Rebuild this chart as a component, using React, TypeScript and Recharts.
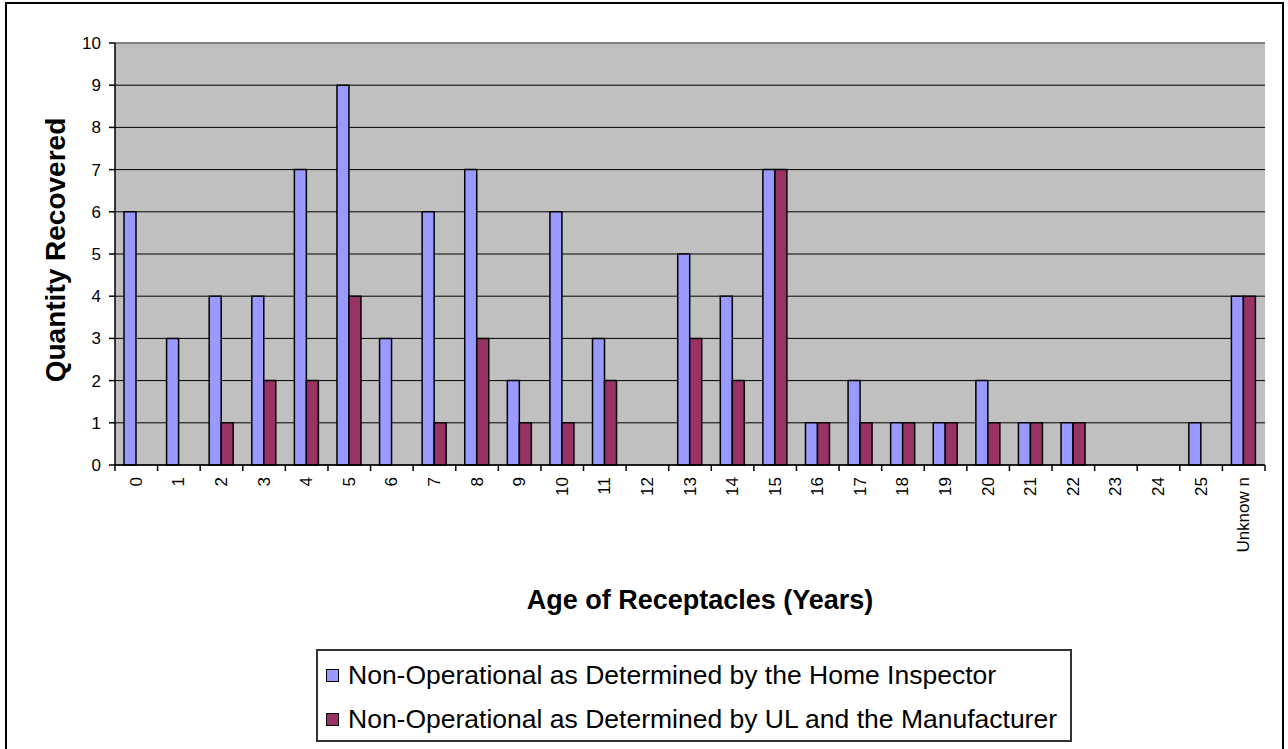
import { BarChart, Bar, XAxis, YAxis, CartesianGrid, ReferenceLine, Label } from 'recharts';

const ages = ['0', '1', '2', '3', '4', '5', '6', '7', '8', '9', '10', '11', '12', '13', '14', '15', '16', '17', '18', '19', '20', '21', '22', '23', '24', '25', 'Unknow n'];
const homeInspector = [6, 3, 4, 4, 7, 9, 3, 6, 7, 2, 6, 3, 0, 5, 4, 7, 1, 2, 1, 1, 2, 1, 1, 0, 0, 1, 4];
const ulManufacturer = [0, 0, 1, 2, 2, 4, 0, 1, 3, 1, 1, 2, 0, 3, 2, 7, 1, 1, 1, 1, 1, 1, 1, 0, 0, 0, 4];
const yTicks = [0, 1, 2, 3, 4, 5, 6, 7, 8, 9, 10];

const seriesNames = [
  'Non-Operational as Determined by the Home Inspector',
  'Non-Operational as Determined by UL and the Manufacturer',
];
const BLUE = '#9999FF';
const MAROON = '#993366';

const data = ages.map((age, i) => ({ age, inspector: homeInspector[i], ul: ulManufacturer[i] }));

const PLOT_LEFT = 115;
const PLOT_RIGHT = 1265;
const PLOT_TOP = 43;
const PLOT_BOTTOM = 465;
const BAND = (PLOT_RIGHT - PLOT_LEFT) / ages.length;
const FONT = '"Liberation Sans", Arial, sans-serif';

function AgeTick(props: any) {
  const { x, payload, index } = props;
  const labelY = PLOT_BOTTOM + 12;
  return (
    <g>
      <line x1={x - BAND / 2} y1={PLOT_BOTTOM} x2={x - BAND / 2} y2={PLOT_BOTTOM + 6} stroke="#000" strokeWidth={1.5} />
      {index === ages.length - 1 && (
        <line x1={x + BAND / 2} y1={PLOT_BOTTOM} x2={x + BAND / 2} y2={PLOT_BOTTOM + 6} stroke="#000" strokeWidth={1.5} />
      )}
      <text
        x={x}
        y={labelY}
        transform={`rotate(-90, ${x}, ${labelY})`}
        textAnchor="end"
        dominantBaseline="central"
        fontSize={17}
        fontFamily={FONT}
        fill="#000"
      >
        {payload.value}
      </text>
    </g>
  );
}

function LegendBox() {
  const colors = [BLUE, MAROON];
  return (
    <div
      style={{
        position: 'absolute',
        left: 316,
        top: 649,
        width: 756,
        height: 93,
        border: '2px solid #333',
        boxSizing: 'border-box',
        fontFamily: FONT,
        fontSize: 26.5,
        color: '#000',
        padding: '2px 0 0 8px',
      }}
    >
      {seriesNames.map((name, i) => (
        <div key={name} style={{ display: 'flex', alignItems: 'center', height: 44, whiteSpace: 'nowrap' }}>
          <span
            style={{
              display: 'inline-block',
              width: 11,
              height: 11,
              background: colors[i],
              border: '1.5px solid #000',
              marginRight: 9,
            }}
          />
          {name}
        </div>
      ))}
    </div>
  );
}

export default function App() {
  return (
    <div style={{ position: 'absolute', left: 0, top: 0, width: 1288, height: 749, overflow: 'hidden', background: '#fff' }}>
      <div
        style={{
          position: 'absolute',
          left: 5,
          top: 2,
          width: 1279,
          height: 780,
          border: '2px solid #000',
          boxSizing: 'border-box',
        }}
      />
      <BarChart
        width={1288}
        height={749}
        data={data}
        margin={{ top: PLOT_TOP, left: PLOT_LEFT - 60, right: 1288 - PLOT_RIGHT, bottom: 749 - PLOT_BOTTOM - 60 }}
        barCategoryGap={9}
        barGap={0}
        style={{ position: 'absolute', left: 0, top: 0 }}
      >
        <CartesianGrid vertical={false} stroke="#000" strokeWidth={1} fill="#C0C0C0" fillOpacity={1} />
        <XAxis
          dataKey="age"
          height={60}
          interval={0}
          tickLine={false}
          axisLine={{ stroke: '#000', strokeWidth: 1.5 }}
          tick={<AgeTick />}
        >
          <Label
            content={() => (
              <text x={700} y={600} textAnchor="middle" dominantBaseline="central" fontSize={27} fontWeight="bold" fontFamily={FONT} fill="#000">
                Age of Receptacles (Years)
              </text>
            )}
          />
        </XAxis>
        <YAxis
          width={60}
          domain={[0, 10]}
          ticks={yTicks}
          interval={0}
          tickSize={6}
          tickMargin={8}
          tickLine={{ stroke: '#000', strokeWidth: 1.5 }}
          axisLine={{ stroke: '#000', strokeWidth: 1.5 }}
          tick={{ fill: '#000', fontSize: 17, fontFamily: FONT }}
        >
          <Label
            content={() => (
              <text
                x={55}
                y={250}
                transform="rotate(-90, 55, 250)"
                textAnchor="middle"
                dominantBaseline="central"
                fontSize={28}
                fontWeight="bold"
                fontFamily={FONT}
                fill="#000"
              >
                Quantity Recovered
              </text>
            )}
          />
        </YAxis>
        <YAxis yAxisId="frame" orientation="right" width={0} tick={false} axisLine={{ stroke: '#808080', strokeWidth: 2 }} />
        <ReferenceLine y={10} stroke="#808080" strokeWidth={2} />
        <Bar dataKey="inspector" name={seriesNames[0]} fill={BLUE} stroke="#000" strokeWidth={1.5} isAnimationActive={false} />
        <Bar dataKey="ul" name={seriesNames[1]} fill={MAROON} stroke="#000" strokeWidth={1.5} isAnimationActive={false} />
      </BarChart>
      <LegendBox />
    </div>
  );
}
